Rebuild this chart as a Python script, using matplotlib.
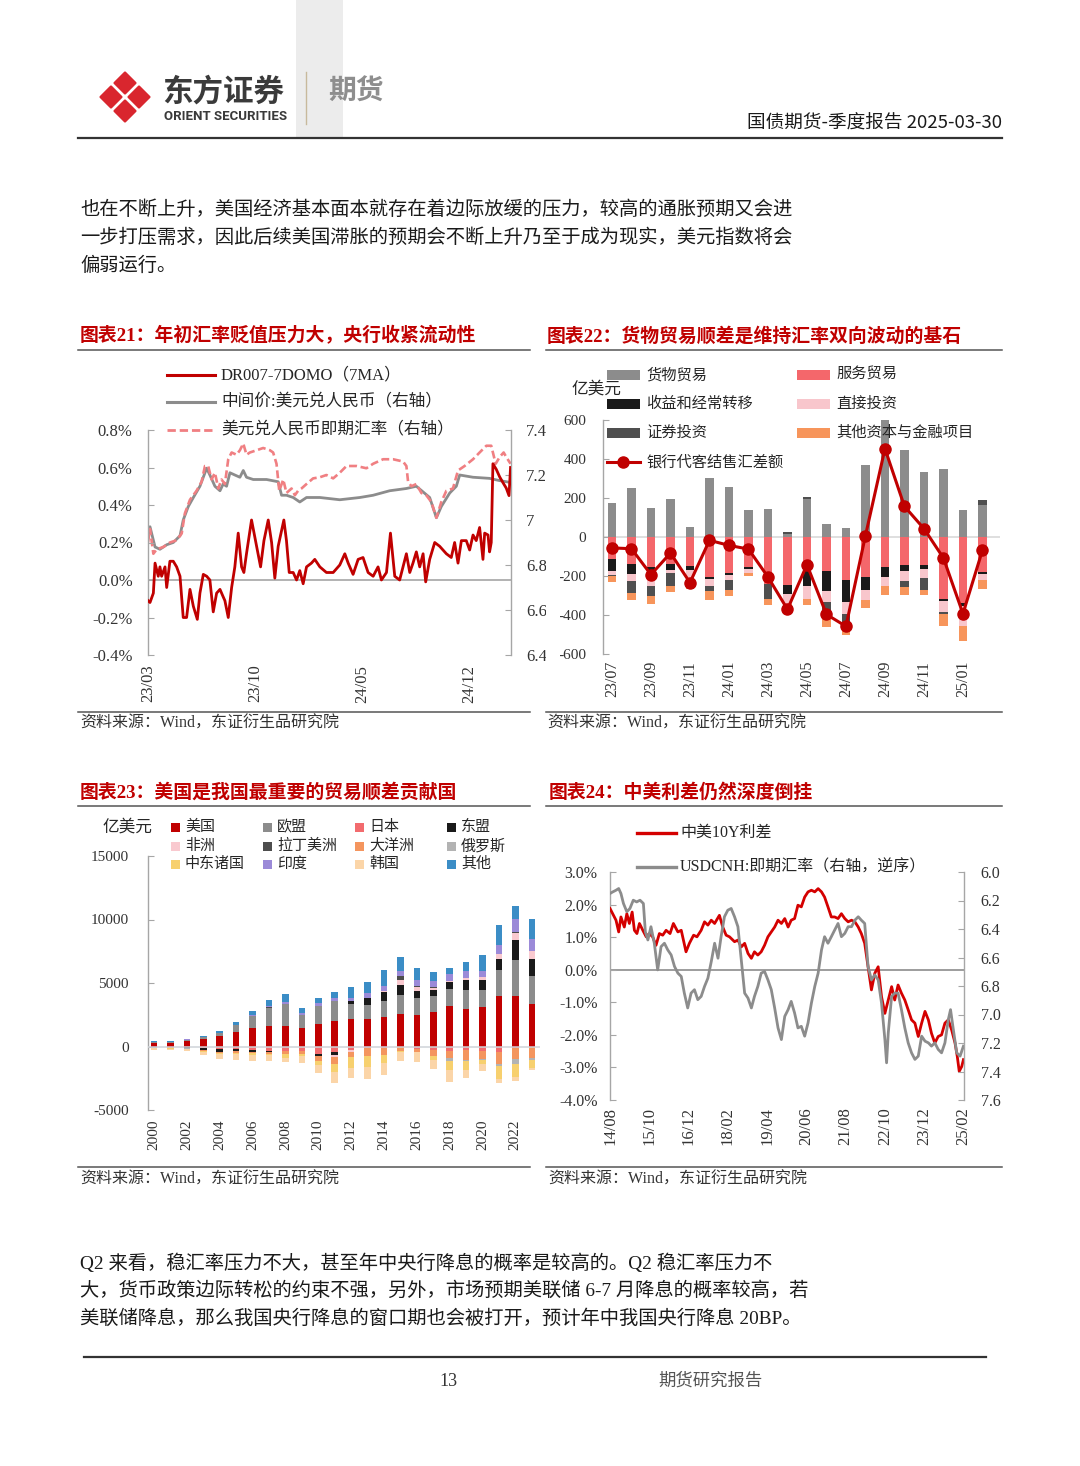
import numpy as np
import matplotlib
matplotlib.use('Agg')
import matplotlib.pyplot as plt
from matplotlib.patches import Rectangle, Polygon
from matplotlib.lines import Line2D
from matplotlib.ticker import FuncFormatter

SERIF = ['Liberation Serif', 'Noto Sans CJK SC']
SANS = ['Noto Sans CJK SC', 'DejaVu Sans']
plt.rcParams['font.family'] = SERIF
plt.rcParams['axes.unicode_minus'] = False

# ---------------- data ----------------
# chart 21 (x = months since 2023-03)
t_dr = [0.0, 0.13, 0.35, 0.46, 0.67, 0.78, 0.89, 1.11, 1.22, 1.43, 1.65, 1.87, 2.09, 2.30, 2.52, 2.74, 2.96,
        3.22, 3.39, 3.61, 3.83, 4.04, 4.26, 4.48, 4.70, 4.91, 5.02, 5.24, 5.46, 5.67, 5.89, 6.11, 6.26, 6.43,
        6.76, 7.09, 7.35, 7.57, 7.85, 8.07, 8.28, 8.50, 8.87, 9.04, 9.22, 9.48, 9.70, 9.91, 10.13, 10.35,
        10.67, 10.89, 11.22, 11.65, 12.09, 12.52, 12.85, 13.07, 13.39, 13.72, 14.04, 14.37, 14.70, 15.02,
        15.24, 15.57, 15.83, 16.11, 16.43, 16.65, 16.87, 17.09, 17.30, 17.52, 17.74, 17.96, 18.13, 18.39,
        18.72, 19.04, 19.48, 19.80, 20.02, 20.24, 20.46, 20.78, 21.00, 21.22, 21.43, 21.65, 21.87, 21.98,
        22.20, 22.30, 22.41, 22.52, 22.74, 22.96, 23.17, 23.39, 23.57, 23.67]
dr007 = [-0.11, -0.12, -0.07, 0.09, 0.02, 0.07, 0.02, 0.07, -0.04, 0.10, 0.10, 0.07, 0.02, -0.20, -0.20, -0.05,
         -0.14, -0.21, -0.07, 0.03, 0.02, 0.00, -0.17, -0.07, -0.05, -0.09, -0.11, -0.20, -0.04, 0.07, 0.25,
         0.07, 0.04, 0.14, 0.32, 0.18, 0.07, 0.21, 0.32, 0.20, 0.01, 0.18, 0.32, 0.21, 0.04, 0.04, 0.00, 0.05,
         -0.02, 0.07, 0.09, 0.11, 0.07, 0.04, 0.04, 0.08, 0.14, 0.09, 0.03, 0.11, 0.12, 0.04, 0.02, 0.07, 0.00,
         0.04, 0.25, 0.02, 0.00, 0.07, 0.14, 0.04, 0.09, 0.15, 0.07, 0.14, -0.01, 0.11, 0.20, 0.18, 0.14, 0.12,
         0.20, 0.09, 0.21, 0.21, 0.16, 0.24, 0.21, 0.28, 0.11, 0.25, 0.24, 0.15, 0.20, 0.62, 0.59, 0.55, 0.52,
         0.49, 0.45, 0.60]
t_mid = [0.0, 0.13, 0.24, 0.46, 0.78, 1.22, 1.65, 2.09, 2.30, 2.63, 2.96, 3.39, 3.83, 4.04, 4.37, 4.70, 4.91,
         5.13, 5.35, 5.67, 6.00, 6.22, 6.43, 6.87, 7.74, 8.50, 8.72, 9.04, 9.48, 9.91, 10.35, 11.22, 12.52,
         13.83, 14.70, 15.78, 16.87, 17.52, 18.39, 18.83, 19.15, 19.70, 20.13, 20.35, 21.22, 22.30, 22.96, 23.67]
mid = [6.93, 6.97, 6.94, 6.88, 6.87, 6.89, 6.90, 6.93, 7.00, 7.06, 7.10, 7.15, 7.23, 7.20, 7.15, 7.13, 7.16,
       7.15, 7.21, 7.20, 7.19, 7.22, 7.19, 7.18, 7.18, 7.17, 7.11, 7.11, 7.10, 7.08, 7.10, 7.10, 7.09, 7.10,
       7.11, 7.13, 7.14, 7.15, 7.10, 7.01, 7.06, 7.12, 7.15, 7.20, 7.19, 7.185, 7.175, 7.167]
t_spot = [0, 0.13, 0.35, 0.57, 1.0, 1.43, 1.87, 2.2, 2.41, 2.74, 3.17, 3.5, 3.72, 3.93, 4.15, 4.37, 4.59, 4.80,
          5.02, 5.24, 5.46, 5.78, 6.0, 6.22, 6.43, 6.65, 7.09, 7.52, 7.96, 8.17, 8.39, 8.57, 8.83, 9.04, 9.37,
          9.59, 9.80, 10.02, 10.35, 10.78, 11.22, 11.65, 12.09, 12.52, 12.96, 13.61, 14.26, 14.70, 15.35, 16.0,
          16.65, 16.87, 16.98, 17.2, 17.52, 17.85, 18.17, 18.5, 18.83, 19.15, 19.48, 19.91, 20.24, 20.67, 21.22,
          21.65, 22.09, 22.41, 22.7, 22.96, 23.22, 23.39, 23.67]
spot = [6.90, 6.96, 6.85, 6.87, 6.88, 6.90, 6.91, 6.94, 7.03, 7.09, 7.13, 7.17, 7.24, 7.24, 7.18, 7.21, 7.14,
        7.18, 7.16, 7.27, 7.30, 7.29, 7.31, 7.34, 7.29, 7.30, 7.31, 7.32, 7.31, 7.30, 7.25, 7.13, 7.18, 7.12,
        7.14, 7.11, 7.13, 7.14, 7.16, 7.185, 7.19, 7.20, 7.185, 7.21, 7.24, 7.24, 7.23, 7.25, 7.27, 7.27, 7.26,
        7.24, 7.17, 7.15, 7.16, 7.12, 7.11, 7.08, 7.01, 7.08, 7.13, 7.14, 7.22, 7.24, 7.27, 7.30, 7.33, 7.33,
        7.25, 7.28, 7.30, 7.28, 7.25]
ticks21 = [0, 7, 14, 21]
labels21 = ['23/03', '23/10', '24/05', '24/12']

# chart 22 (亿美元)
months22 = ['23/07', '23/08', '23/09', '23/10', '23/11', '23/12', '24/01', '24/02', '24/03', '24/04',
            '24/05', '24/06', '24/07', '24/08', '24/09', '24/10', '24/11', '24/12', '25/01', '25/02']
goods22 = [174, 253, 149, 197, 51, 303, 258, 140, 142, 15, 197, 68, 48, 371, 602, 448, 333, 349, 138, 165]
services22 = [-111, -140, -154, -140, -147, -205, -183, -154, -239, -248, -171, -172, -219, -205, -154, -145,
              -145, -316, -340, -179]
income22 = [-63, -48, -20, -27, -20, -12, -10, -9, 0, -43, -82, -105, -115, -68, -51, -29, -20, -12, -12, -9]
direct22 = [-20, -39, -78, -17, -60, -34, -29, -20, 0, -51, -63, -58, -60, -48, -48, -51, -43, -56, -102, -31]
secur22 = [-5, -58, -51, -68, -15, -27, -51, 0, -77, 10, 8, -88, -77, 0, 0, -31, -65, -12, 0, 26]
other22 = [-31, -36, -41, -29, -25, -46, -31, -19, -34, -10, -34, -40, -34, -41, -43, -39, -22, -60, -77, -46]
netfx22 = [-56, -60, -193, -82, -234, -17, -43, -62, -205, -371, -142, -397, -458, 7, 453, 157, 43, -108,
           -393, -68]

# chart 23 (亿美元, 2000-2023)
years23 = list(range(2000, 2024))
us23 = [297, 281, 427, 586, 790, 1105, 1420, 1580, 1630, 1420, 1760, 2000, 2180, 2160, 2340, 2580, 2450,
        2710, 3210, 2950, 3100, 3950, 4000, 3340]
eu23 = [70, 60, 97, 160, 260, 550, 950, 1450, 1740, 1050, 1450, 1580, 1190, 1130, 1210, 1500, 1370, 1240,
        1320, 1520, 1370, 2050, 2840, 2190]
jp23 = [0, -20, -50, -147, -208, -164, -240, -319, -345, -330, -556, -463, -262, -120, -136, -73, -164, -284,
        -335, -284, -322, -398, -117, -30]
asean23 = [-50, -50, -76, -164, -200, -196, -182, -142, -29, -4, -165, -228, 180, 530, 740, 790, 580, 470,
           550, 740, 790, 920, 1530, 1360]
africa23 = [-5, 10, 18, 18, -18, -20, 20, 20, 5, 40, -50, -100, -150, -30, 50, 400, 290, 200, 80, 180, 240,
            380, 530, 600]
latam23 = [0, 0, 0, 10, 0, 0, 20, 30, 0, 0, 0, 0, 0, 0, 50, 250, 60, 30, 0, 0, 0, 0, 150, 0]
oce23 = [-20, -30, -20, -50, -100, -130, -100, -150, -200, -250, -400, -550, -450, -600, -500, -250, -250,
         -450, -600, -750, -700, -1000, -850, -850]
rus23 = [-30, -40, -50, -30, 0, 0, 0, 0, 0, 0, 0, 0, 0, 0, 0, 0, 0, 0, -180, -100, -50, -110, -380, -200]
me23 = [-50, -40, -40, -50, -100, -100, -150, -50, -300, -200, -250, -700, -800, -900, -700, -100, -50, -300,
        -750, -740, -300, -1030, -1050, -600]
india23 = [2, 5, 10, 10, 15, 20, 40, 95, 113, 158, 200, 271, 289, 380, 378, 450, 520, 520, 574, 567, 458,
           690, 1000, 1000]
kr23 = [-120, -110, -130, -230, -344, -417, -452, -478, -382, -489, -696, -798, -812, -919, -898, -732, -720,
        -748, -957, -628, -589, -356, -358, -150]
rest23 = [80, 40, 40, 60, 145, 275, 370, 505, 640, 360, 410, 440, 840, 900, 1260, 1080, 910, 730, 480, 720,
          1250, 1560, 1000, 1560]

# chart 24 (x = months since 2014-08)
t_sp = [0, 0.95, 2.14, 3.1, 3.9, 5.1, 6.0, 6.9, 7.9, 8.7, 9.6, 10.5, 11.7, 12.9, 14.0, 15.2, 16.4, 17.6,
        18.8, 20.0, 21.4, 22.6, 24.2, 25.4, 27.1, 28.3, 29.8, 31.0, 32.5, 33.7, 34.9, 36.1, 37.3, 39.0, 40.2,
        41.4, 42.6, 44.4, 45.6, 46.8, 48.0, 49.2, 50.4, 51.5, 52.7, 53.9, 55.1, 56.3, 57.5, 58.7, 59.9, 61.1,
        62.3, 63.5, 64.6, 65.8, 67.0, 68.2, 69.4, 70.6, 71.8, 73.0, 74.2, 75.4, 76.5, 77.7, 78.9, 80.1, 81.3,
        82.5, 83.7, 84.9, 86.1, 87.3, 88.5, 89.6, 90.8, 92.0, 93.2, 94.4, 95.6, 96.8, 98.0, 99.2, 100.4,
        101.5, 102.7, 103.9, 105.1, 106.3, 107.5, 108.7, 109.9, 111.1, 112.3, 113.5, 114.6, 115.8, 117.0,
        118.2, 119.4, 120.6, 121.8, 123.0, 123.8, 124.5, 125.4, 126.0]
spread = [1.88, 1.72, 1.52, 1.16, 1.62, 1.31, 1.72, 1.42, 1.77, 1.21, 1.11, 1.42, 1.21, 1.01, 1.11, 1.01,
          0.75, 1.11, 1.06, 1.21, 1.11, 1.42, 1.16, 1.21, 0.55, 0.81, 1.06, 1.01, 1.21, 1.47, 1.37, 1.52,
          1.42, 1.67, 1.31, 1.06, 1.01, 0.86, 0.91, 0.70, 0.81, 0.50, 0.35, 0.55, 0.45, 0.55, 0.75, 1.01,
          1.16, 1.31, 1.52, 1.42, 1.57, 1.31, 1.52, 1.57, 1.98, 1.93, 2.23, 2.39, 2.44, 2.39, 2.49, 2.39,
          2.23, 1.93, 1.62, 1.62, 1.57, 1.72, 1.57, 1.47, 1.52, 1.47, 1.31, 1.11, 0.81, 0.09, -0.62, -0.11,
          0.09, -0.83, -1.34, -0.93, -0.52, -0.93, -0.47, -0.72, -0.93, -1.23, -1.54, -1.64, -2.05, -1.64,
          -1.28, -1.54, -1.95, -2.25, -2.05, -2.00, -1.64, -1.54, -1.85, -2.25, -2.66, -3.12, -2.97, -2.76]
t_cnh = [0, 0.95, 2.14, 3.1, 3.9, 4.8, 6.0, 7.1, 8.3, 9.5, 10.7, 11.9, 12.6, 13.5, 14.6, 15.8, 17.0, 18.2,
         19.4, 20.6, 21.8, 23.0, 24.2, 25.4, 26.5, 27.7, 28.9, 30.1, 31.3, 32.5, 33.7, 34.9, 36.1, 37.3, 38.5,
         39.6, 40.8, 42.0, 43.2, 44.4, 45.6, 46.8, 48.0, 49.2, 50.4, 51.5, 52.7, 53.9, 55.1, 56.3, 57.5, 58.7,
         59.9, 61.1, 62.3, 63.5, 64.6, 65.8, 67.0, 68.2, 69.4, 70.6, 71.8, 73.0, 74.2, 75.4, 76.5, 77.7, 78.9,
         80.1, 81.3, 82.5, 83.7, 84.9, 86.1, 87.3, 88.5, 89.6, 90.8, 92.0, 93.2, 94.4, 95.6, 96.8, 98.0, 98.6,
         99.2, 100.4, 101.5, 102.7, 103.9, 105.1, 106.3, 107.5, 108.7, 109.9, 111.1, 112.3, 113.5, 114.6,
         115.8, 117.0, 118.2, 119.4, 120.6, 121.4, 122.4, 123.6, 124.8, 126.0]
cnh = [6.151, 6.140, 6.128, 6.116, 6.151, 6.221, 6.279, 6.256, 6.198, 6.210, 6.198, 6.221, 6.419, 6.477,
       6.384, 6.500, 6.687, 6.524, 6.500, 6.547, 6.582, 6.663, 6.710, 6.733, 6.850, 6.954, 6.850, 6.826,
       6.896, 6.873, 6.803, 6.745, 6.629, 6.500, 6.605, 6.454, 6.314, 6.268, 6.256, 6.314, 6.384, 6.617,
       6.850, 6.885, 6.954, 6.873, 6.803, 6.710, 6.698, 6.757, 6.826, 6.954, 7.094, 7.176, 7.013, 6.966,
       6.908, 6.989, 7.094, 7.083, 7.152, 7.059, 6.920, 6.803, 6.710, 6.547, 6.454, 6.500, 6.454, 6.407,
       6.361, 6.454, 6.431, 6.384, 6.384, 6.338, 6.314, 6.338, 6.361, 6.663, 6.757, 6.722, 6.757, 6.920,
       7.176, 7.339, 7.129, 6.873, 6.850, 6.850, 6.966, 7.094, 7.199, 7.269, 7.315, 7.292, 7.152, 7.187,
       7.199, 7.222, 7.199, 7.245, 7.269, 7.199, 7.036, 6.966, 7.106, 7.269, 7.292, 7.222]
ticks24 = [0, 14, 28, 42, 56, 70, 84, 98, 112, 126]
labels24 = ['14/08', '15/10', '16/12', '18/02', '19/04', '20/06', '21/08', '22/10', '23/12', '25/02']

# ---------------- helpers (pixel coords, origin top-left) ----------------
W, H = 1080, 1466
fig = plt.figure(figsize=(W / 100, H / 100), dpi=100)


def fx(x):
    return x / W


def fy(y):
    return 1 - y / H


def box(l, t, r, b):
    return [l / W, 1 - b / H, (r - l) / W, (b - t) / H]


def ftext(x, y, s, size, color='#262626', family=SERIF, ha='left', va='center', weight='normal'):
    fig.text(fx(x), fy(y), s, fontsize=size, color=color, family=family, ha=ha, va=va, weight=weight)


def fline(x0, x1, y0, y1=None, color='#404040', lw=1.0, ls='-'):
    if y1 is None:
        y1 = y0
    fig.add_artist(Line2D([fx(x0), fx(x1)], [fy(y0), fy(y1)], transform=fig.transFigure,
                          color=color, lw=lw, ls=ls))


def frect(x0, y0, x1, y1, color, z=1):
    fig.add_artist(Rectangle((fx(x0), fy(y1)), fx(x1) - fx(x0), fy(y0) - fy(y1),
                             transform=fig.transFigure, color=color, lw=0, zorder=z))


def style_axis(ax, left=True, right=False):
    for s in ['top', 'bottom']:
        ax.spines[s].set_visible(False)
    ax.spines['left'].set_visible(left)
    ax.spines['right'].set_visible(right)
    for s in ['left', 'right']:
        ax.spines[s].set_color('#a6a6a6')
        ax.spines[s].set_linewidth(1.0)
    ax.patch.set_visible(False)


# ---------------- page header ----------------
frect(296, 0, 343, 138, '#ececec', z=0)
cx, cy, d, h = 125, 97, 14, 10.5
for ox, oy in [(0, -d), (d, 0), (0, d), (-d, 0)]:
    px, py = cx + ox, cy + oy
    pts = [(fx(px), fy(py - h)), (fx(px + h), fy(py)), (fx(px), fy(py + h)), (fx(px - h), fy(py))]
    fig.add_artist(Polygon(pts, closed=True, transform=fig.transFigure, facecolor='#d9262e',
                           edgecolor='#d9262e', lw=1.6, joinstyle='round'))
ftext(162, 92, '东方证券', 22, color='#3a3a3a', family=SANS, weight='bold')
ftext(164, 116, 'ORIENT SECURITIES', 9.5, color='#3a3a3a', family=['Roboto', 'DejaVu Sans'], weight='bold')
fline(306, 306, 72, 124, color='#c8b99c', lw=1.0)
ftext(328, 92, '期货', 20, color='#8e8e8e', family=SANS, weight='bold')
ftext(1002, 124, '国债期货-季度报告 2025-03-30', 13.4, color='#1a1a1a', family=SANS, ha='right')
fline(78, 1002, 138, color='#333333', lw=1.6)

body1 = ['也在不断上升，美国经济基本面本就存在着边际放缓的压力，较高的通胀预期又会进',
         '一步打压需求，因此后续美国滞胀的预期会不断上升乃至于成为现实，美元指数将会',
         '偏弱运行。']
for i, s in enumerate(body1):
    ftext(80, 210 + 28 * i, s, 13.9, color='#1a1a1a')

# ---------------- section frames ----------------
RED = '#c00000'
ftext(80, 336, '图表21：年初汇率贬值压力大，央行收紧流动性', 13.6, color=RED, weight='bold')
ftext(547, 336, '图表22：货物贸易顺差是维持汇率双向波动的基石', 13.6, color=RED, weight='bold')
ftext(80, 792, '图表23：美国是我国最重要的贸易顺差贡献国', 13.6, color=RED, weight='bold')
ftext(549, 792, '图表24：中美利差仍然深度倒挂', 13.6, color=RED, weight='bold')
for y in [350, 712, 806, 1167]:
    fline(78, 530, y, color='#555555', lw=1.1)
    fline(546, 1002, y, color='#555555', lw=1.1)
for x, y in [(80, 724), (547, 724), (80, 1180), (548, 1180)]:
    ftext(x, y, '资料来源：Wind，东证衍生品研究院', 11.5, color='#333333')

# ---------------- chart 21 ----------------
ax = fig.add_axes(box(148, 430, 511, 655))
ax2 = ax.twinx()
ax.set_zorder(2)
style_axis(ax, left=True)
style_axis(ax2, left=False, right=True)
ax.axhline(0, color='#a6a6a6', lw=1.2, zorder=1)
ax.plot(t_dr, dr007, color=RED, lw=2.0, zorder=3)
ax2.plot(t_mid, mid, color='#8c8c8c', lw=2.0)
ax2.plot(t_spot, spot, color='#f07f82', lw=1.9, ls=(0, (3, 1.4)))
ax.set_xlim(0, 23.7)
ax.set_ylim(-0.4, 0.8)
ax2.set_ylim(6.4, 7.4)
ax.set_yticks([-0.4, -0.2, 0.0, 0.2, 0.4, 0.6, 0.8])
ax.yaxis.set_major_formatter(FuncFormatter(lambda v, p: f'{v:.1f}%'))
ax2.set_yticks([6.4, 6.6, 6.8, 7.0, 7.2, 7.4])
ax2.yaxis.set_major_formatter(FuncFormatter(lambda v, p: f'{v:g}'))
ax.set_xticks(ticks21)
ax.set_xticklabels(labels21, rotation=90)
ax.tick_params(axis='x', length=0, pad=7, labelsize=12, labelcolor='#333333')
ax.tick_params(axis='y', direction='in', length=4, color='#a6a6a6', pad=11, labelsize=12, labelcolor='#333333')
ax2.tick_params(axis='y', direction='in', length=4, color='#a6a6a6', pad=11, labelsize=12, labelcolor='#333333')
frect(546, 420, 560, 662, 'white', z=5)

fline(167, 215, 375, color=RED, lw=2.2)
ftext(221, 375, 'DR007-7DOMO（7MA）', 12)
fline(167, 215, 402, color='#8c8c8c', lw=2.2)
ftext(221, 402, '中间价:美元兑人民币（右轴）', 12)
fline(167, 215, 430, color='#f07f82', lw=2.0, ls=(0, (3, 1.4)))
ftext(221, 430, '美元兑人民币即期汇率（右轴）', 12)

# ---------------- chart 22 ----------------
ax = fig.add_axes(box(603, 420, 1000, 654))
style_axis(ax, left=True)
x22 = np.arange(len(months22))
pos = np.zeros(len(x22))
neg = np.zeros(len(x22))
series22 = [(goods22, '#8c8c8c'), (services22, '#f4676b'), (income22, '#1a1a1a'),
            (direct22, '#f8c6cc'), (secur22, '#4f4f4f'), (other22, '#f7955b')]
for vals, col in series22:
    v = np.array(vals, dtype=float)
    vp = np.clip(v, 0, None)
    vn = np.clip(v, None, 0)
    ax.bar(x22, vp, bottom=pos, width=0.42, color=col, lw=0, zorder=2)
    ax.bar(x22, vn, bottom=neg, width=0.42, color=col, lw=0, zorder=2)
    pos += vp
    neg += vn
ax.axhline(0, color='#d9d9d9', lw=1.2, zorder=1)
ax.plot(x22, netfx22, color=RED, lw=2.2, marker='o', ms=8, zorder=4)
ax.set_xlim(-0.46, 19.9)
ax.set_ylim(-600, 600)
ax.set_yticks(range(-600, 601, 200))
ax.set_xticks(x22[::2])
ax.set_xticklabels(months22[::2], rotation=90)
ax.tick_params(axis='x', length=0, pad=5, labelsize=11.5, labelcolor='#333333')
ax.tick_params(axis='y', direction='in', length=4, color='#a6a6a6', pad=12, labelsize=11, labelcolor='#333333')

ftext(571, 390, '亿美元', 12)
leg22 = [(607, 375, '货物贸易', '#8c8c8c'), (797, 375, '服务贸易', '#f4676b'),
         (607, 404, '收益和经常转移', '#1a1a1a'), (797, 404, '直接投资', '#f8c6cc'),
         (607, 433, '证券投资', '#4f4f4f'), (797, 433, '其他资本与金融项目', '#f7955b')]
for lx, ly, s, col in leg22:
    frect(lx, ly - 5, lx + 33, ly + 5, col, z=3)
    ftext(lx + 39, ly, s, 11)
fline(607, 640, 462, color=RED, lw=2.2)
fig.add_artist(Line2D([fx(623)], [fy(462)], transform=fig.transFigure, marker='o', ms=8, color=RED))
ftext(646, 462, '银行代客结售汇差额', 11)

# ---------------- chart 23 ----------------
ax = fig.add_axes(box(148, 856, 540, 1110))
style_axis(ax, left=True)
series23 = [(us23, '美国', '#c00000'), (eu23, '欧盟', '#8c8c8c'), (jp23, '日本', '#f26b6e'),
            (asean23, '东盟', '#1a1a1a'), (africa23, '非洲', '#f9c9cf'), (latam23, '拉丁美洲', '#4d4d4d'),
            (oce23, '大洋洲', '#f4955e'), (rus23, '俄罗斯', '#b3b3b3'), (me23, '中东诸国', '#f7d06e'),
            (india23, '印度', '#9b8ad8'), (kr23, '韩国', '#fbd5a8'), (rest23, '其他', '#3b8dc6')]
pos = np.zeros(len(years23))
neg = np.zeros(len(years23))
for vals, name, col in series23:
    v = np.array(vals, dtype=float)
    vp = np.clip(v, 0, None)
    vn = np.clip(v, None, 0)
    ax.bar(years23, vp, bottom=pos, width=0.4, color=col, lw=0, zorder=2)
    ax.bar(years23, vn, bottom=neg, width=0.4, color=col, lw=0, zorder=2)
    pos += vp
    neg += vn
ax.axhline(0, color='#cfd3d8', lw=1.1, zorder=3)
ax.set_xlim(1999.63, 2023.5)
ax.set_ylim(-5000, 15000)
ax.set_yticks(range(-5000, 15001, 5000))
ax.set_xticks(years23[::2])
ax.set_xticklabels([str(y) for y in years23[::2]], rotation=90)
ax.tick_params(axis='x', length=0, pad=7, labelsize=11, labelcolor='#333333')
ax.tick_params(axis='y', direction='in', length=4, color='#a6a6a6', pad=14, labelsize=11, labelcolor='#333333')

ftext(102, 828, '亿美元', 12)
cols23 = [171, 263, 355, 447]
rows23 = [827, 846, 864]
for i, (vals, name, col) in enumerate(series23):
    lx = cols23[i % 4]
    ly = rows23[i // 4]
    frect(lx, ly - 4.5, lx + 9, ly + 4.5, col, z=3)
    ftext(lx + 14, ly, name, 10.8)

# ---------------- chart 24 ----------------
ax = fig.add_axes(box(610, 872, 964, 1100))
ax2 = ax.twinx()
style_axis(ax, left=True)
style_axis(ax2, left=False, right=True)
ax.axhline(0, color='#8c8c8c', lw=1.2, zorder=1)
ax.plot(t_sp, spread, color='#d40000', lw=2.0, zorder=3)
ax2.plot(t_cnh, cnh, color='#8c8c8c', lw=2.0)
ax.set_xlim(0, 126.2)
ax.set_ylim(-4, 3)
ax2.set_ylim(7.6, 6.0)
ax.set_yticks(range(-4, 4))
ax.yaxis.set_major_formatter(FuncFormatter(lambda v, p: f'{v:.1f}%'))
ax2.set_yticks([6.0, 6.2, 6.4, 6.6, 6.8, 7.0, 7.2, 7.4, 7.6])
ax2.yaxis.set_major_formatter(FuncFormatter(lambda v, p: f'{v:.1f}'))
ax.set_xticks(ticks24)
ax.set_xticklabels(labels24, rotation=90)
ax.tick_params(axis='x', length=0, pad=5, labelsize=12, labelcolor='#333333')
ax.tick_params(axis='y', direction='in', length=4, color='#a6a6a6', pad=9, labelsize=11.5, labelcolor='#333333')
ax2.tick_params(axis='y', direction='in', length=4, color='#a6a6a6', pad=12, labelsize=11.5, labelcolor='#333333')

fline(637, 676, 833, color='#d40000', lw=2.4)
ftext(680, 833, '中美10Y利差', 11.5)
fline(637, 676, 867, color='#8c8c8c', lw=2.4)
ftext(680, 867, 'USDCNH:即期汇率（右轴，逆序）', 11.5)

# ---------------- closing paragraph & footer ----------------
body2 = ['Q2 来看，稳汇率压力不大，甚至年中央行降息的概率是较高的。Q2 稳汇率压力不',
         '大，货币政策边际转松的约束不强，另外，市场预期美联储 6-7 月降息的概率较高，若',
         '美联储降息，那么我国央行降息的窗口期也会被打开，预计年中我国央行降息 20BP。']
for i, s in enumerate(body2):
    ftext(80, 1263 + 28 * i, s, 13.9, color='#1a1a1a')
fline(84, 986, 1357, color='#333333', lw=1.6)
ftext(448, 1381, '13', 13, color='#333333', ha='center')
ftext(710, 1381, '期货研究报告', 12.5, color='#555555', ha='center')

fig.savefig('out.png', dpi=100)
